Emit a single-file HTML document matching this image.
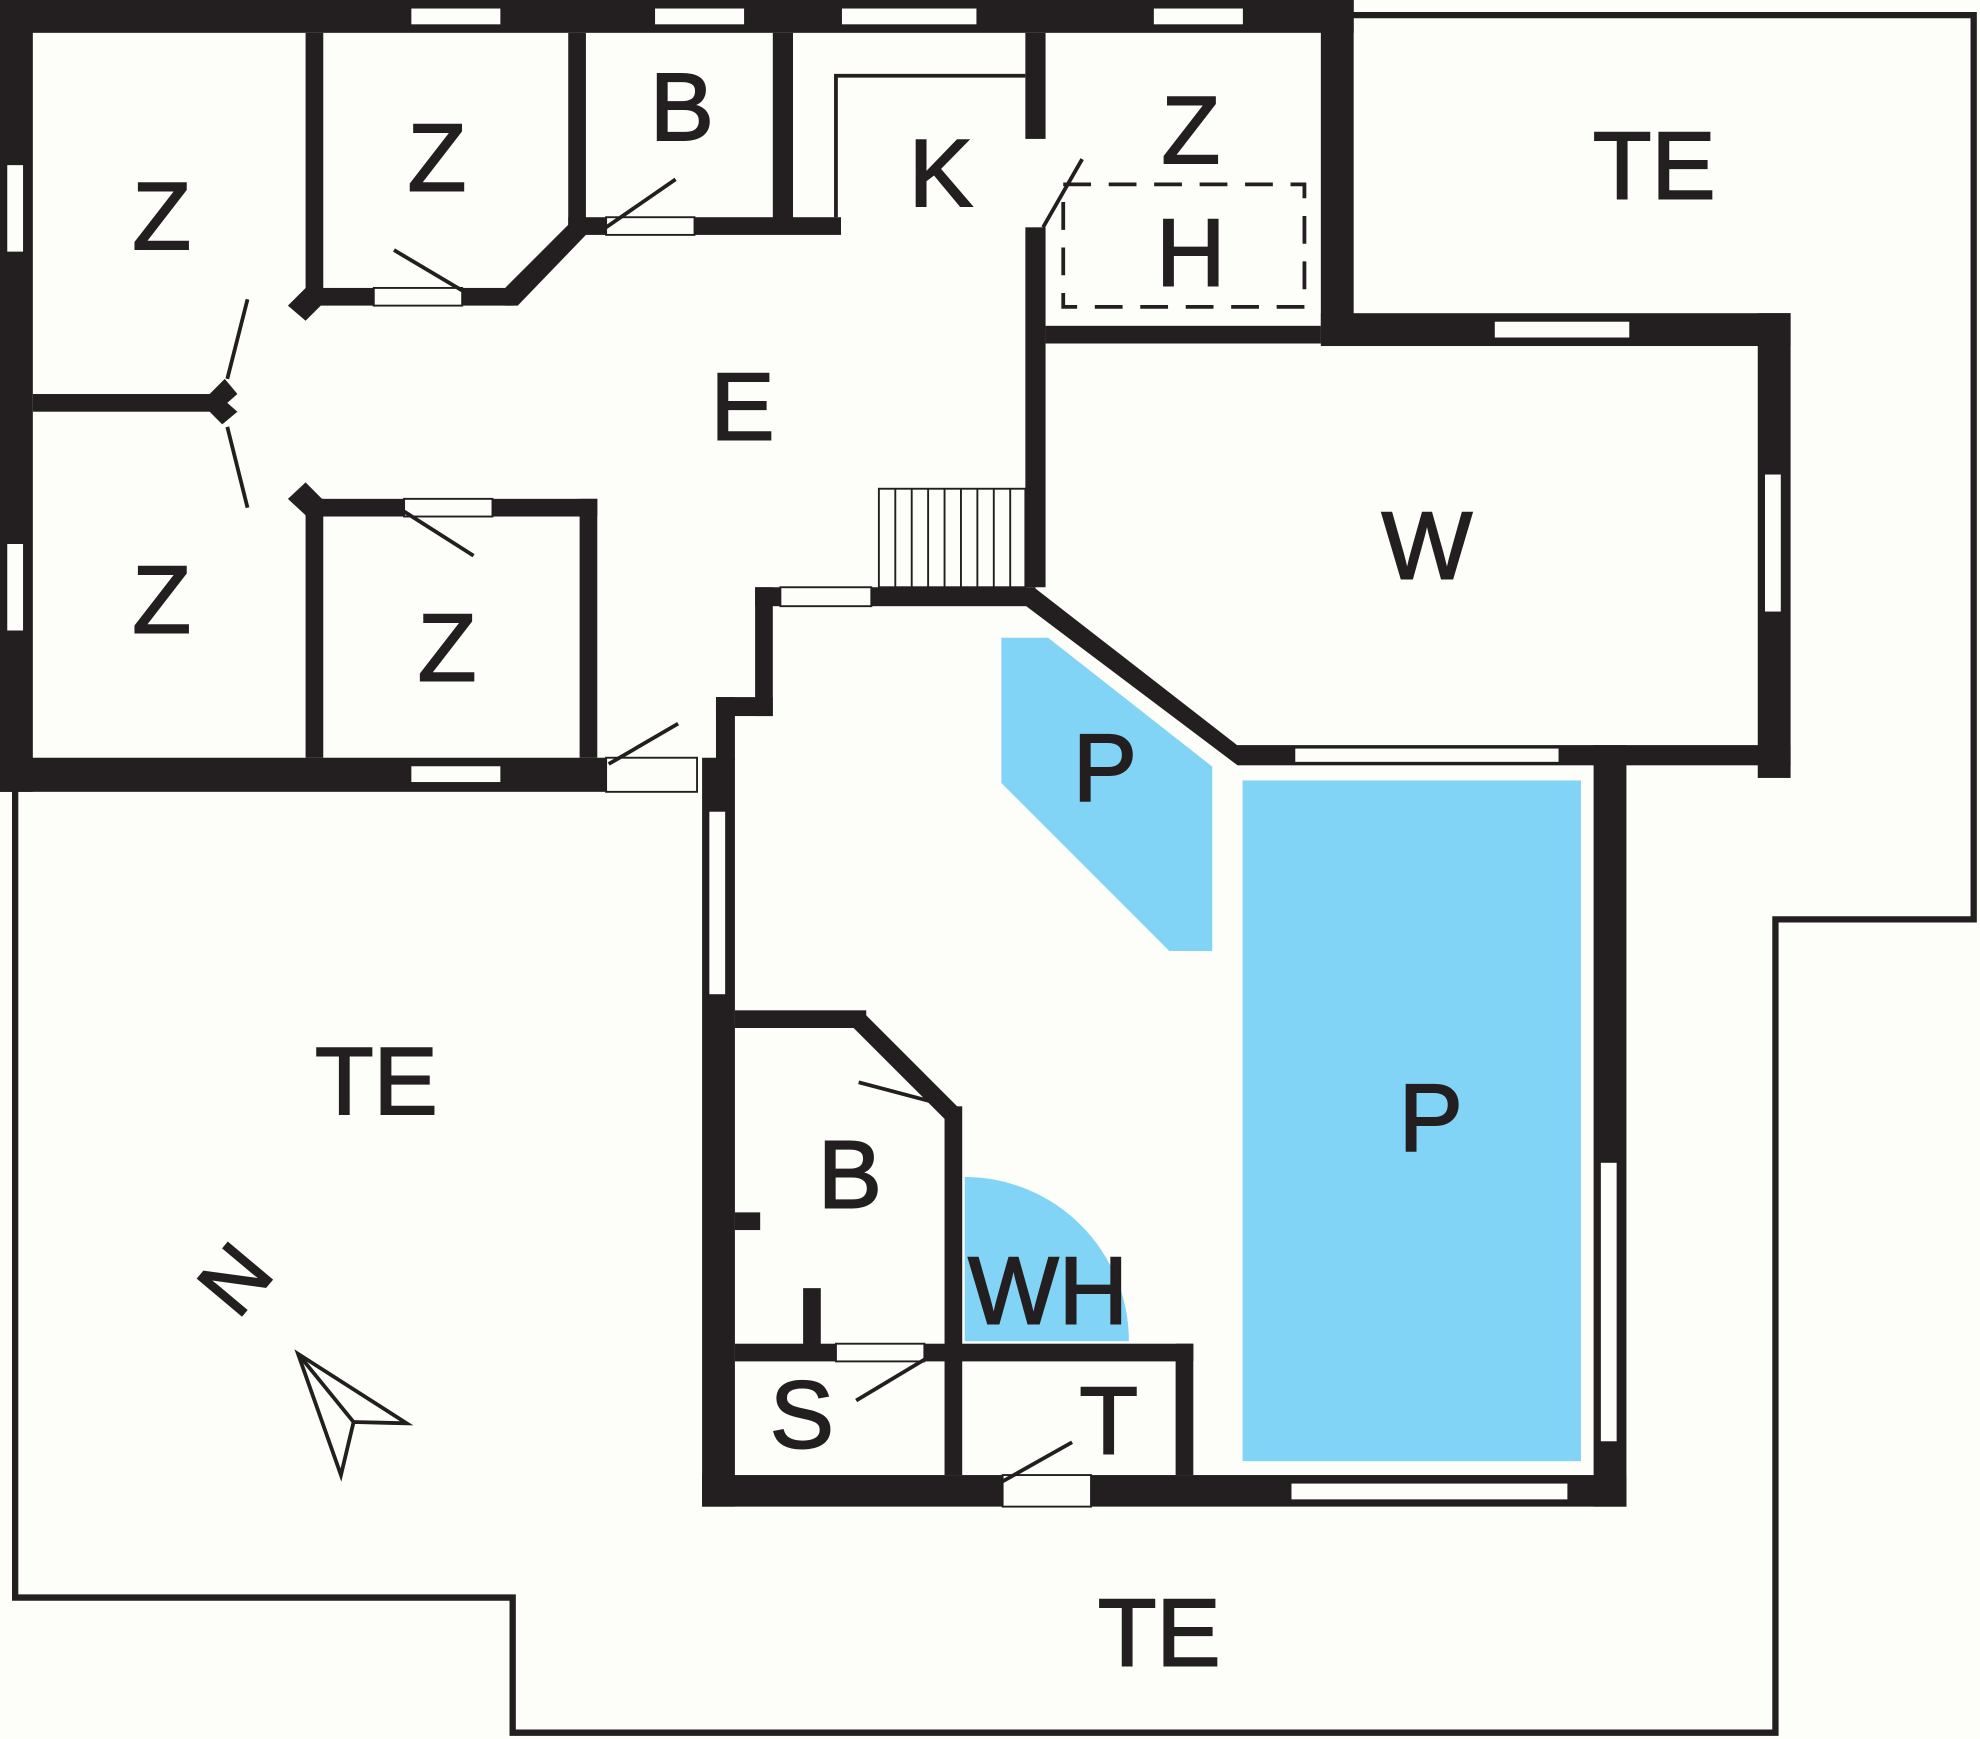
<!DOCTYPE html>
<html><head><meta charset="utf-8"><style>
html,body{margin:0;padding:0;background:#fdfdf9;}
svg{display:block;}
text{font-family:"Liberation Sans",sans-serif;font-size:76px;fill:#231f20;stroke:#231f20;stroke-width:1.5;text-anchor:middle;}
</style></head><body>
<svg width="1980" height="1739" viewBox="0 0 1568 1377" preserveAspectRatio="none" xmlns="http://www.w3.org/2000/svg">
<rect x="0" y="0" width="1568" height="1377" fill="#fdfdf9"/>
<polyline points="1070,12 1563,12 1563,728 1406,728 1406,1372 406,1372 406,1265 12,1265 12,625" fill="none" stroke="#231f20" stroke-width="5"/>
<rect x="984" y="618" width="268" height="539" fill="#82d4f6"/>
<polygon points="793,505 830,505 960,607 960,753 926,753 793,620" fill="#82d4f6"/>
<path d="M764,932 A130,130 0 0 1 894,1062 L764,1062 Z" fill="#82d4f6"/>
<g fill="#231f20">
<rect x="0" y="0" width="1072" height="26"/>
<rect x="0" y="0" width="26" height="627"/>
<rect x="0" y="600" width="480" height="27"/>
<rect x="1046" y="0" width="26" height="272"/>
<rect x="1046" y="248" width="372" height="26"/>
<rect x="1392" y="248" width="26" height="368"/>
<rect x="980" y="590" width="438" height="16"/>
<rect x="1262" y="590" width="26" height="603"/>
<rect x="556" y="1168" width="732" height="25"/>
<rect x="556" y="600" width="26" height="593"/>
<rect x="242" y="26" width="14" height="214"/>
<rect x="242" y="395" width="14" height="205"/>
<rect x="26" y="312" width="145" height="14"/>
<rect x="242" y="228" width="54" height="14"/>
<rect x="366" y="228" width="40" height="14"/>
<polygon points="400,228 450,178 464,186 410,242 400,242"/>
<rect x="450" y="26" width="14" height="160"/>
<rect x="450" y="172" width="30" height="14"/>
<rect x="550" y="172" width="116" height="14"/>
<rect x="612" y="26" width="16" height="155"/>
<rect x="812" y="26" width="16" height="84"/>
<rect x="812" y="180" width="16" height="285"/>
<rect x="828" y="258" width="218" height="14"/>
<polygon points="228,242 242,228 256,240 242,254"/>
<polygon points="160,318 178,300 188,312 172,326"/>
<polygon points="160,320 172,312 188,326 176,336"/>
<polygon points="228,395 242,382 256,396 242,408"/>
<rect x="242" y="395" width="78" height="14"/>
<rect x="390" y="395" width="83" height="14"/>
<rect x="459" y="395" width="14" height="205"/>
<rect x="598" y="465" width="20" height="15"/>
<rect x="690" y="465" width="130" height="15"/>
<rect x="598" y="465" width="14" height="102"/>
<rect x="567" y="552" width="45" height="15"/>
<rect x="567" y="552" width="15" height="50"/>
<polygon points="820,466 990,598 980,606 810,478"/>
<rect x="582" y="800" width="104" height="14"/>
<polygon points="682,800 762,880 748,886 676,814"/>
<rect x="748" y="876" width="14" height="292"/>
<rect x="582" y="960" width="20" height="14"/>
<rect x="636" y="1020" width="14" height="46"/>
<rect x="582" y="1064" width="80" height="14"/>
<rect x="732" y="1064" width="213" height="14"/>
<rect x="931" y="1064" width="14" height="104"/>
</g>
<g fill="#fdfdf9" stroke="#231f20" stroke-width="1.5">
<rect x="325" y="6" width="72" height="14"/>
<rect x="518" y="6" width="72" height="14"/>
<rect x="666" y="6" width="108" height="14"/>
<rect x="913" y="6" width="72" height="14"/>
<rect x="5" y="130" width="14" height="70"/>
<rect x="5" y="430" width="14" height="70"/>
<rect x="325" y="606" width="72" height="14"/>
<rect x="1183" y="254" width="108" height="14"/>
<rect x="1397" y="375" width="14" height="110"/>
<rect x="1025" y="592" width="210" height="12"/>
<rect x="1267" y="920" width="14" height="222"/>
<rect x="1022" y="1174" width="220" height="14"/>
<rect x="561" y="642" width="14" height="146"/>
<rect x="794" y="1168" width="70" height="25"/>
<rect x="480" y="600" width="72" height="27"/>
<rect x="618" y="465" width="72" height="15"/>
<rect x="296" y="228" width="70" height="14"/>
<rect x="480" y="172" width="70" height="14"/>
<rect x="320" y="395" width="70" height="14"/>
<rect x="662" y="1064" width="70" height="14"/>
</g>
<g fill="none" stroke="#231f20" stroke-width="3">
<polyline points="662,172 662,60 812,60"/>
<rect x="842" y="146" width="191" height="97" stroke-dasharray="22,14"/>
<line x1="480" y1="180" x2="535" y2="142"/>
<line x1="312" y1="198" x2="366" y2="230"/>
<line x1="826" y1="180" x2="857" y2="126"/>
<line x1="180" y1="300" x2="196" y2="237"/>
<line x1="180" y1="338" x2="196" y2="402"/>
<line x1="320" y1="405" x2="375" y2="440"/>
<line x1="482" y1="605" x2="537" y2="573"/>
<line x1="680" y1="857" x2="748" y2="875"/>
<line x1="678" y1="1109" x2="733" y2="1076"/>
<line x1="794" y1="1173" x2="849" y2="1142"/>
<polygon points="236,1072 322,1127 280,1126 270,1168"/>
<line x1="236" y1="1072" x2="280" y2="1126"/>
</g>
<g stroke="#231f20" stroke-width="1.5">
<rect x="696" y="387" width="116" height="78" fill="none"/>
<line x1="709" y1="387" x2="709" y2="465"/><line x1="722" y1="387" x2="722" y2="465"/>
<line x1="735" y1="387" x2="735" y2="465"/><line x1="748" y1="387" x2="748" y2="465"/>
<line x1="761" y1="387" x2="761" y2="465"/><line x1="774" y1="387" x2="774" y2="465"/>
<line x1="787" y1="387" x2="787" y2="465"/><line x1="800" y1="387" x2="800" y2="465"/>
</g>
<text x="128" y="197">Z</text>
<text x="346" y="151">Z</text>
<text x="540" y="111">B</text>
<text x="745" y="163">K</text>
<text x="943" y="129">Z</text>
<text x="943" y="226">H</text>
<text x="1310" y="157">TE</text>
<text x="588" y="348">E</text>
<text x="1130" y="458">W</text>
<text x="128" y="501">Z</text>
<text x="354" y="539">Z</text>
<text x="875" y="634">P</text>
<text x="1133" y="911">P</text>
<text x="298" y="882">TE</text>
<text x="673" y="956">B</text>
<text x="830" y="1048">WH</text>
<text x="635" y="1146">S</text>
<text x="878" y="1151">T</text>
<text x="918" y="1319">TE</text>
<text x="0" y="0" transform="translate(185,1012) rotate(-50)" style="font-size:66px" dy="24">N</text>
</svg>
</body></html>
